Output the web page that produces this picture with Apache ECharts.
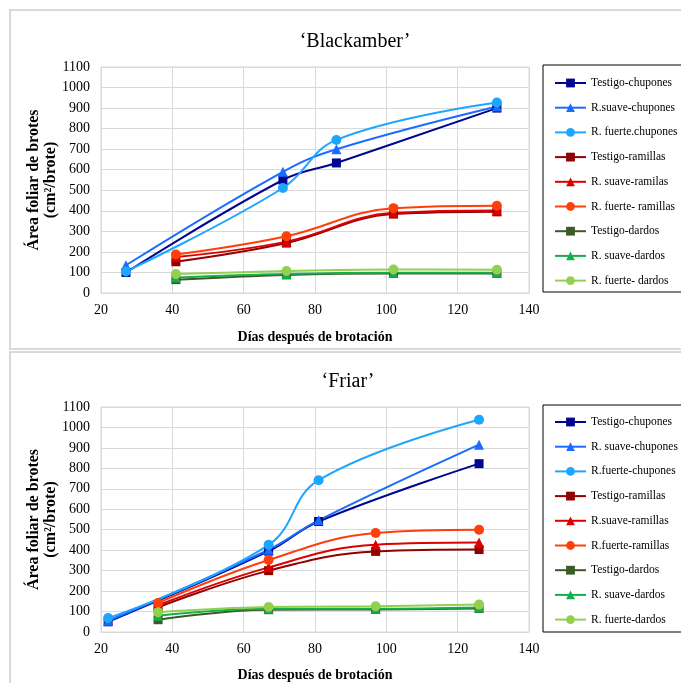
<!DOCTYPE html>
<html>
<head>
<meta charset="utf-8">
<script src="https://cdn.jsdelivr.net/npm/echarts@6/dist/echarts.min.js"></script>
<style>html,body{margin:0;padding:0;background:#fff;}#c{width:681px;height:683px;}</style>
</head>
<body>
<div id="c"></div>
<script>
// ---- Data: 'Blackamber' ----
const bkTitle = "‘Blackamber’";
const bkDaysChup = [27, 71, 86, 131];
const bkDaysOther = [41, 72, 102, 131];
const bkTestigoChup = [100, 550, 633, 900];
const bkSuaveChup = [135, 590, 700, 908];
const bkFuerteChup = [105, 511, 745, 927];
const bkTestigoRam = [152, 243, 384, 395];
const bkSuaveRam = [175, 250, 390, 402];
const bkFuerteRam = [187, 276, 413, 425];
const bkTestigoDar = [65, 88, 95, 95];
const bkSuaveDar = [75, 92, 98, 98];
const bkFuerteDar = [92, 107, 114, 113];
const bkNames = ["Testigo-chupones", "R.suave-chupones", "R. fuerte.chupones",
  "Testigo-ramillas", "R. suave-ramilas", "R. fuerte- ramillas",
  "Testigo-dardos", "R. suave-dardos", "R. fuerte- dardos"];

// ---- Data: 'Friar' ----
const frTitle = "‘Friar’";
const frDaysChup = [22, 67, 81, 126];
const frDaysOther = [36, 67, 97, 126];
const frTestigoChup = [50, 395, 540, 823];
const frSuaveChup = [55, 402, 546, 916];
const frFuerteChup = [68, 426, 742, 1038];
const frTestigoRam = [121, 300, 394, 403];
const frSuaveRam = [131, 316, 427, 437];
const frFuerteRam = [142, 352, 484, 500];
const frTestigoDar = [60, 109, 110, 115];
const frSuaveDar = [80, 114, 114, 120];
const frFuerteDar = [97, 122, 126, 134];
const frNames = ["Testigo-chupones", "R. suave-chupones", "R.fuerte-chupones",
  "Testigo-ramillas", "R.suave-ramillas", "R.fuerte-ramillas",
  "Testigo-dardos", "R. suave-dardos", "R. fuerte-dardos"];

// ---- Axis ticks ----
const xMin = 20, xMax = 140, xStep = 20;
const yMin = 0, yMax = 1100, yStep = 100;
const xTitle = "Días después de brotación";
const yTitle = "Área foliar de brotes\n(cm²/brote)";

// ---- Styles ----
const colors = ["#00078e", "#1a6bff", "#1ea6ff", "#930000", "#dd0000", "#ff3f0a", "#3b5a25", "#14ae4c", "#92d050"];
const symbols = ["rect", "triangle", "circle", "rect", "triangle", "circle", "rect", "triangle", "circle"];
const symSizes = [9, 10, 10, 9, 10, 10, 9, 10, 10];
const serif = "'Liberation Serif', 'Times New Roman', serif";

function pairs(xs, ys) { return xs.map((x, i) => [x, ys[i]]); }

const bkSets = [
  [bkDaysChup, bkTestigoChup], [bkDaysChup, bkSuaveChup], [bkDaysChup, bkFuerteChup],
  [bkDaysOther, bkTestigoRam], [bkDaysOther, bkSuaveRam], [bkDaysOther, bkFuerteRam],
  [bkDaysOther, bkTestigoDar], [bkDaysOther, bkSuaveDar], [bkDaysOther, bkFuerteDar]
];
const frSets = [
  [frDaysChup, frTestigoChup], [frDaysChup, frSuaveChup], [frDaysChup, frFuerteChup],
  [frDaysOther, frTestigoRam], [frDaysOther, frSuaveRam], [frDaysOther, frFuerteRam],
  [frDaysOther, frTestigoDar], [frDaysOther, frSuaveDar], [frDaysOther, frFuerteDar]
];

const series = [];
function addSeries(sets, names, idx) {
  sets.forEach((s, i) => {
    series.push({
      type: "line", name: names[i], xAxisIndex: idx, yAxisIndex: idx,
      data: pairs(s[0], s[1]), smooth: 0.4,
      symbol: symbols[i], symbolSize: symSizes[i], showSymbol: true,
      lineStyle: { width: 2, color: colors[i] },
      itemStyle: { color: colors[i] },
      emphasis: { disabled: true }, animation: false
    });
  });
}
addSeries(bkSets, bkNames, 0);
addSeries(frSets, frNames, 1);

function xAxis(gi, gap) {
  return {
    type: "value", gridIndex: gi, min: xMin, max: xMax, interval: xStep,
    name: xTitle, nameLocation: "middle", nameGap: gap,
    nameTextStyle: { fontFamily: serif, fontWeight: "bold", fontSize: 14, color: "#000" },
    axisLine: { show: true, lineStyle: { color: "#d9d9d9" } },
    axisTick: { show: false },
    axisLabel: { fontFamily: serif, fontSize: 14, color: "#000", margin: 10, formatter: v => String(v) },
    splitLine: { show: true, lineStyle: { color: "#d9d9d9" } }
  };
}
function yAxis(gi) {
  return {
    type: "value", gridIndex: gi, min: yMin, max: yMax, interval: yStep,
    name: yTitle, nameLocation: "middle", nameRotate: 90, nameGap: 42, nameMoveOverlap: false,
    nameTextStyle: { fontFamily: serif, fontWeight: "bold", fontSize: 16, lineHeight: 17, color: "#000" },
    axisLine: { show: true, lineStyle: { color: "#d9d9d9" } },
    axisTick: { show: false },
    axisLabel: { fontFamily: serif, fontSize: 14, color: "#000", margin: 11, formatter: v => String(v) },
    splitLine: { show: true, lineStyle: { color: "#d9d9d9" } }
  };
}
function legend(names, top) {
  return {
    orient: "vertical", left: 549, top: top, data: names,
    itemWidth: 31, itemHeight: 11, itemGap: 12.7,
    textStyle: { fontFamily: serif, fontSize: 11.5, color: "#000", lineHeight: 11 },
    selectedMode: false
  };
}

const chart = echarts.init(document.getElementById("c"), null, { renderer: "canvas" });
chart.setOption({
  backgroundColor: "#fff",
  animation: false,
  title: [
    { text: bkTitle, left: 350, top: 27, textAlign: "center", textStyle: { fontFamily: serif, fontWeight: "normal", fontSize: 20, color: "#000" } },
    { text: frTitle, left: 343, top: 367, textAlign: "center", textStyle: { fontFamily: serif, fontWeight: "normal", fontSize: 20, color: "#000" } }
  ],
  grid: [
    { left: 101, top: 67, width: 428, height: 226, show: true, borderColor: "#d9d9d9", borderWidth: 1 },
    { left: 101, top: 407, width: 428, height: 226, show: true, borderColor: "#d9d9d9", borderWidth: 1 }
  ],
  xAxis: [xAxis(0, 37), xAxis(1, 36)],
  yAxis: [yAxis(0), yAxis(1)],
  legend: [legend(bkNames, 72), legend(frNames, 411)],
  graphic: [
    { type: "rect", shape: { x: 10, y: 10, width: 720, height: 339 }, style: { fill: "none", stroke: "#d9d9d9", lineWidth: 2 }, silent: true, z: -1 },
    { type: "rect", shape: { x: 10, y: 352, width: 720, height: 400 }, style: { fill: "none", stroke: "#d9d9d9", lineWidth: 2 }, silent: true, z: -1 },
    { type: "rect", shape: { x: 543, y: 65, width: 200, height: 227 }, style: { fill: "none", stroke: "#000", lineWidth: 1 }, silent: true },
    { type: "rect", shape: { x: 543, y: 405, width: 200, height: 227 }, style: { fill: "none", stroke: "#000", lineWidth: 1 }, silent: true }
  ],
  series: series
});
</script>
</body>
</html>
